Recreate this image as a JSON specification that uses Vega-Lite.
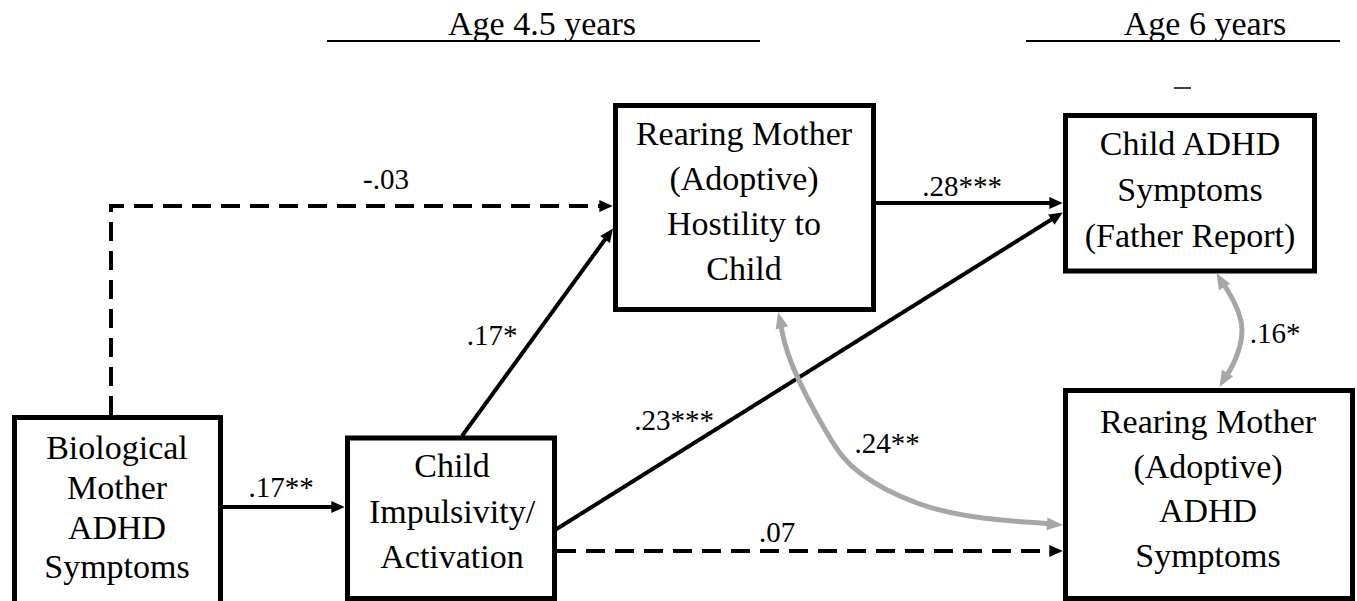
{
  "$schema": "https://vega.github.io/schema/vega-lite/v6.json",
  "width": 1357,
  "height": 601,
  "padding": 0,
  "autosize": {"type": "fit", "contains": "padding"},
  "background": "white",
  "config": {"view": {"stroke": null}},
  "datasets": {
    "rules": [
      {"x": 327, "x2": 760, "y": 41, "w": "thick"},
      {"x": 1026, "x2": 1340, "y": 41, "w": "thick"},
      {"x": 1174, "x2": 1191, "y": 88, "w": "thin"}
    ],
    "boxes": [
      {"id": "bio", "x1": 14.5, "x2": 220.5, "y1": 417.5, "y2": 608},
      {"id": "imp", "x1": 347.5, "x2": 554.5, "y1": 438, "y2": 598.5},
      {"id": "host", "x1": 615.5, "x2": 873.5, "y1": 105.5, "y2": 309.5},
      {"id": "cadhd", "x1": 1065.5, "x2": 1314.5, "y1": 115.5, "y2": 271},
      {"id": "madhd", "x1": 1065.5, "x2": 1352.5, "y1": 390.5, "y2": 598.5}
    ],
    "paths": [
      {"id": "a1", "ord": 1, "x": 223, "y": 507, "style": "solid"},
      {"id": "a1", "ord": 2, "x": 340, "y": 507, "style": "solid"},
      {"id": "a2", "ord": 1, "x": 111, "y": 415, "style": "dashed"},
      {"id": "a2", "ord": 2, "x": 111, "y": 206, "style": "dashed"},
      {"id": "a2", "ord": 3, "x": 606, "y": 206, "style": "dashed"},
      {"id": "a3", "ord": 1, "x": 462, "y": 436, "style": "solid"},
      {"id": "a3", "ord": 2, "x": 609, "y": 234, "style": "solid"},
      {"id": "a4", "ord": 1, "x": 876, "y": 203, "style": "solid"},
      {"id": "a4", "ord": 2, "x": 1058, "y": 203, "style": "solid"},
      {"id": "a5", "ord": 1, "x": 555, "y": 530, "style": "solid"},
      {"id": "a5", "ord": 2, "x": 1057, "y": 216, "style": "solid"},
      {"id": "a6", "ord": 1, "x": 557, "y": 551, "style": "dashed"},
      {"id": "a6", "ord": 2, "x": 1056, "y": 551, "style": "dashed"}
    ],
    "curves": [
      {"id": "c1", "ord": 1, "x": 780, "y": 320},
      {"id": "c1", "ord": 2, "x": 793, "y": 367},
      {"id": "c1", "ord": 3, "x": 827, "y": 433},
      {"id": "c1", "ord": 4, "x": 860, "y": 473},
      {"id": "c1", "ord": 5, "x": 917, "y": 503},
      {"id": "c1", "ord": 6, "x": 983, "y": 518},
      {"id": "c1", "ord": 7, "x": 1054, "y": 524},
      {"id": "c2", "ord": 1, "x": 1220.5, "y": 279},
      {"id": "c2", "ord": 2, "x": 1234, "y": 302},
      {"id": "c2", "ord": 3, "x": 1242, "y": 330},
      {"id": "c2", "ord": 4, "x": 1235, "y": 360},
      {"id": "c2", "ord": 5, "x": 1223.5, "y": 381}
    ],
    "heads": [
      {"x": 338, "y": 507, "angle": 90},
      {"x": 606, "y": 206, "angle": 90},
      {"x": 609, "y": 234, "angle": 36},
      {"x": 1056, "y": 203, "angle": 90},
      {"x": 1057, "y": 216, "angle": 58},
      {"x": 1056, "y": 551, "angle": 90}
    ],
    "grayheads": [
      {"x": 780, "y": 320, "angle": -14},
      {"x": 1055, "y": 524.5, "angle": 94},
      {"x": 1220.5, "y": 280, "angle": -30},
      {"x": 1223.5, "y": 380, "angle": 210}
    ],
    "boxtext": [
      {"t": "Biological", "x": 117, "y": 459},
      {"t": "Mother", "x": 117, "y": 499},
      {"t": "ADHD", "x": 117, "y": 539},
      {"t": "Symptoms", "x": 117, "y": 578},
      {"t": "Child", "x": 452, "y": 477},
      {"t": "Impulsivity/", "x": 452, "y": 523},
      {"t": "Activation", "x": 452, "y": 568},
      {"t": "Rearing Mother", "x": 744, "y": 145},
      {"t": "(Adoptive)", "x": 744, "y": 190},
      {"t": "Hostility to", "x": 744, "y": 235},
      {"t": "Child", "x": 744, "y": 280},
      {"t": "Child ADHD", "x": 1190, "y": 155},
      {"t": "Symptoms", "x": 1190, "y": 201},
      {"t": "(Father Report)", "x": 1190, "y": 247},
      {"t": "Rearing Mother", "x": 1208, "y": 433},
      {"t": "(Adoptive)", "x": 1208, "y": 478},
      {"t": "ADHD", "x": 1208, "y": 522},
      {"t": "Symptoms", "x": 1208, "y": 567},
      {"t": "Age 4.5 years", "x": 542, "y": 35},
      {"t": "Age 6 years", "x": 1205, "y": 35}
    ],
    "coefs": [
      {"t": ".17**", "x": 281, "y": 497},
      {"t": "-.03", "x": 386, "y": 189},
      {"t": ".17*", "x": 492, "y": 345},
      {"t": ".23***", "x": 674, "y": 430},
      {"t": ".28***", "x": 962, "y": 196},
      {"t": ".24**", "x": 887, "y": 453},
      {"t": ".07", "x": 777, "y": 542},
      {"t": ".16*", "x": 1275, "y": 343}
    ]
  },
  "encoding": {
    "x": {"type": "quantitative", "scale": {"domain": [0, 1357], "nice": false, "zero": false}, "axis": null},
    "y": {"type": "quantitative", "scale": {"domain": [0, 601], "nice": false, "zero": false, "reverse": true}, "axis": null}
  },
  "layer": [
    {
      "data": {"name": "rules"},
      "mark": {"type": "rule", "color": "black"},
      "encoding": {
        "x": {"field": "x", "type": "quantitative"},
        "x2": {"field": "x2"},
        "y": {"field": "y", "type": "quantitative"},
        "strokeWidth": {"field": "w", "type": "nominal", "scale": {"domain": ["thick", "thin"], "range": [2, 1.5]}, "legend": null}
      }
    },
    {
      "data": {"name": "boxes"},
      "mark": {"type": "rect", "fill": "white", "stroke": "black", "strokeWidth": 5, "clip": true},
      "encoding": {
        "x": {"field": "x1", "type": "quantitative"},
        "x2": {"field": "x2"},
        "y": {"field": "y1", "type": "quantitative"},
        "y2": {"field": "y2"}
      }
    },
    {
      "data": {"name": "paths"},
      "mark": {"type": "line", "color": "black", "strokeWidth": 4, "strokeCap": "butt"},
      "encoding": {
        "x": {"field": "x", "type": "quantitative"},
        "y": {"field": "y", "type": "quantitative"},
        "detail": {"field": "id", "type": "nominal"},
        "order": {"field": "ord", "type": "quantitative"},
        "strokeDash": {"field": "style", "type": "nominal", "scale": {"domain": ["solid", "dashed"], "range": [[1, 0], [19, 10]]}, "legend": null}
      }
    },
    {
      "data": {"name": "curves"},
      "mark": {"type": "line", "color": "#a6a6a6", "strokeWidth": 5, "interpolate": "natural"},
      "encoding": {
        "x": {"field": "x", "type": "quantitative"},
        "y": {"field": "y", "type": "quantitative"},
        "detail": {"field": "id", "type": "nominal"},
        "order": {"field": "ord", "type": "quantitative"}
      }
    },
    {
      "data": {"name": "heads"},
      "mark": {"type": "point", "shape": "M0,-1L0.9,1L-0.9,1Z", "filled": true, "color": "black", "opacity": 1, "size": 180, "strokeWidth": 0},
      "encoding": {
        "x": {"field": "x", "type": "quantitative"},
        "y": {"field": "y", "type": "quantitative"},
        "angle": {"field": "angle", "type": "quantitative", "scale": null}
      }
    },
    {
      "data": {"name": "grayheads"},
      "mark": {"type": "point", "shape": "M0,-1L0.8,1L-0.8,1Z", "filled": true, "color": "#a6a6a6", "opacity": 1, "size": 260, "strokeWidth": 0},
      "encoding": {
        "x": {"field": "x", "type": "quantitative"},
        "y": {"field": "y", "type": "quantitative"},
        "angle": {"field": "angle", "type": "quantitative", "scale": null}
      }
    },
    {
      "data": {"name": "boxtext"},
      "mark": {"type": "text", "font": "Liberation Serif", "fontSize": 34, "color": "black", "align": "center", "baseline": "alphabetic"},
      "encoding": {
        "x": {"field": "x", "type": "quantitative"},
        "y": {"field": "y", "type": "quantitative"},
        "text": {"field": "t", "type": "nominal"}
      }
    },
    {
      "data": {"name": "coefs"},
      "mark": {"type": "text", "font": "Liberation Serif", "fontSize": 29, "color": "black", "align": "center", "baseline": "alphabetic"},
      "encoding": {
        "x": {"field": "x", "type": "quantitative"},
        "y": {"field": "y", "type": "quantitative"},
        "text": {"field": "t", "type": "nominal"}
      }
    }
  ]
}
